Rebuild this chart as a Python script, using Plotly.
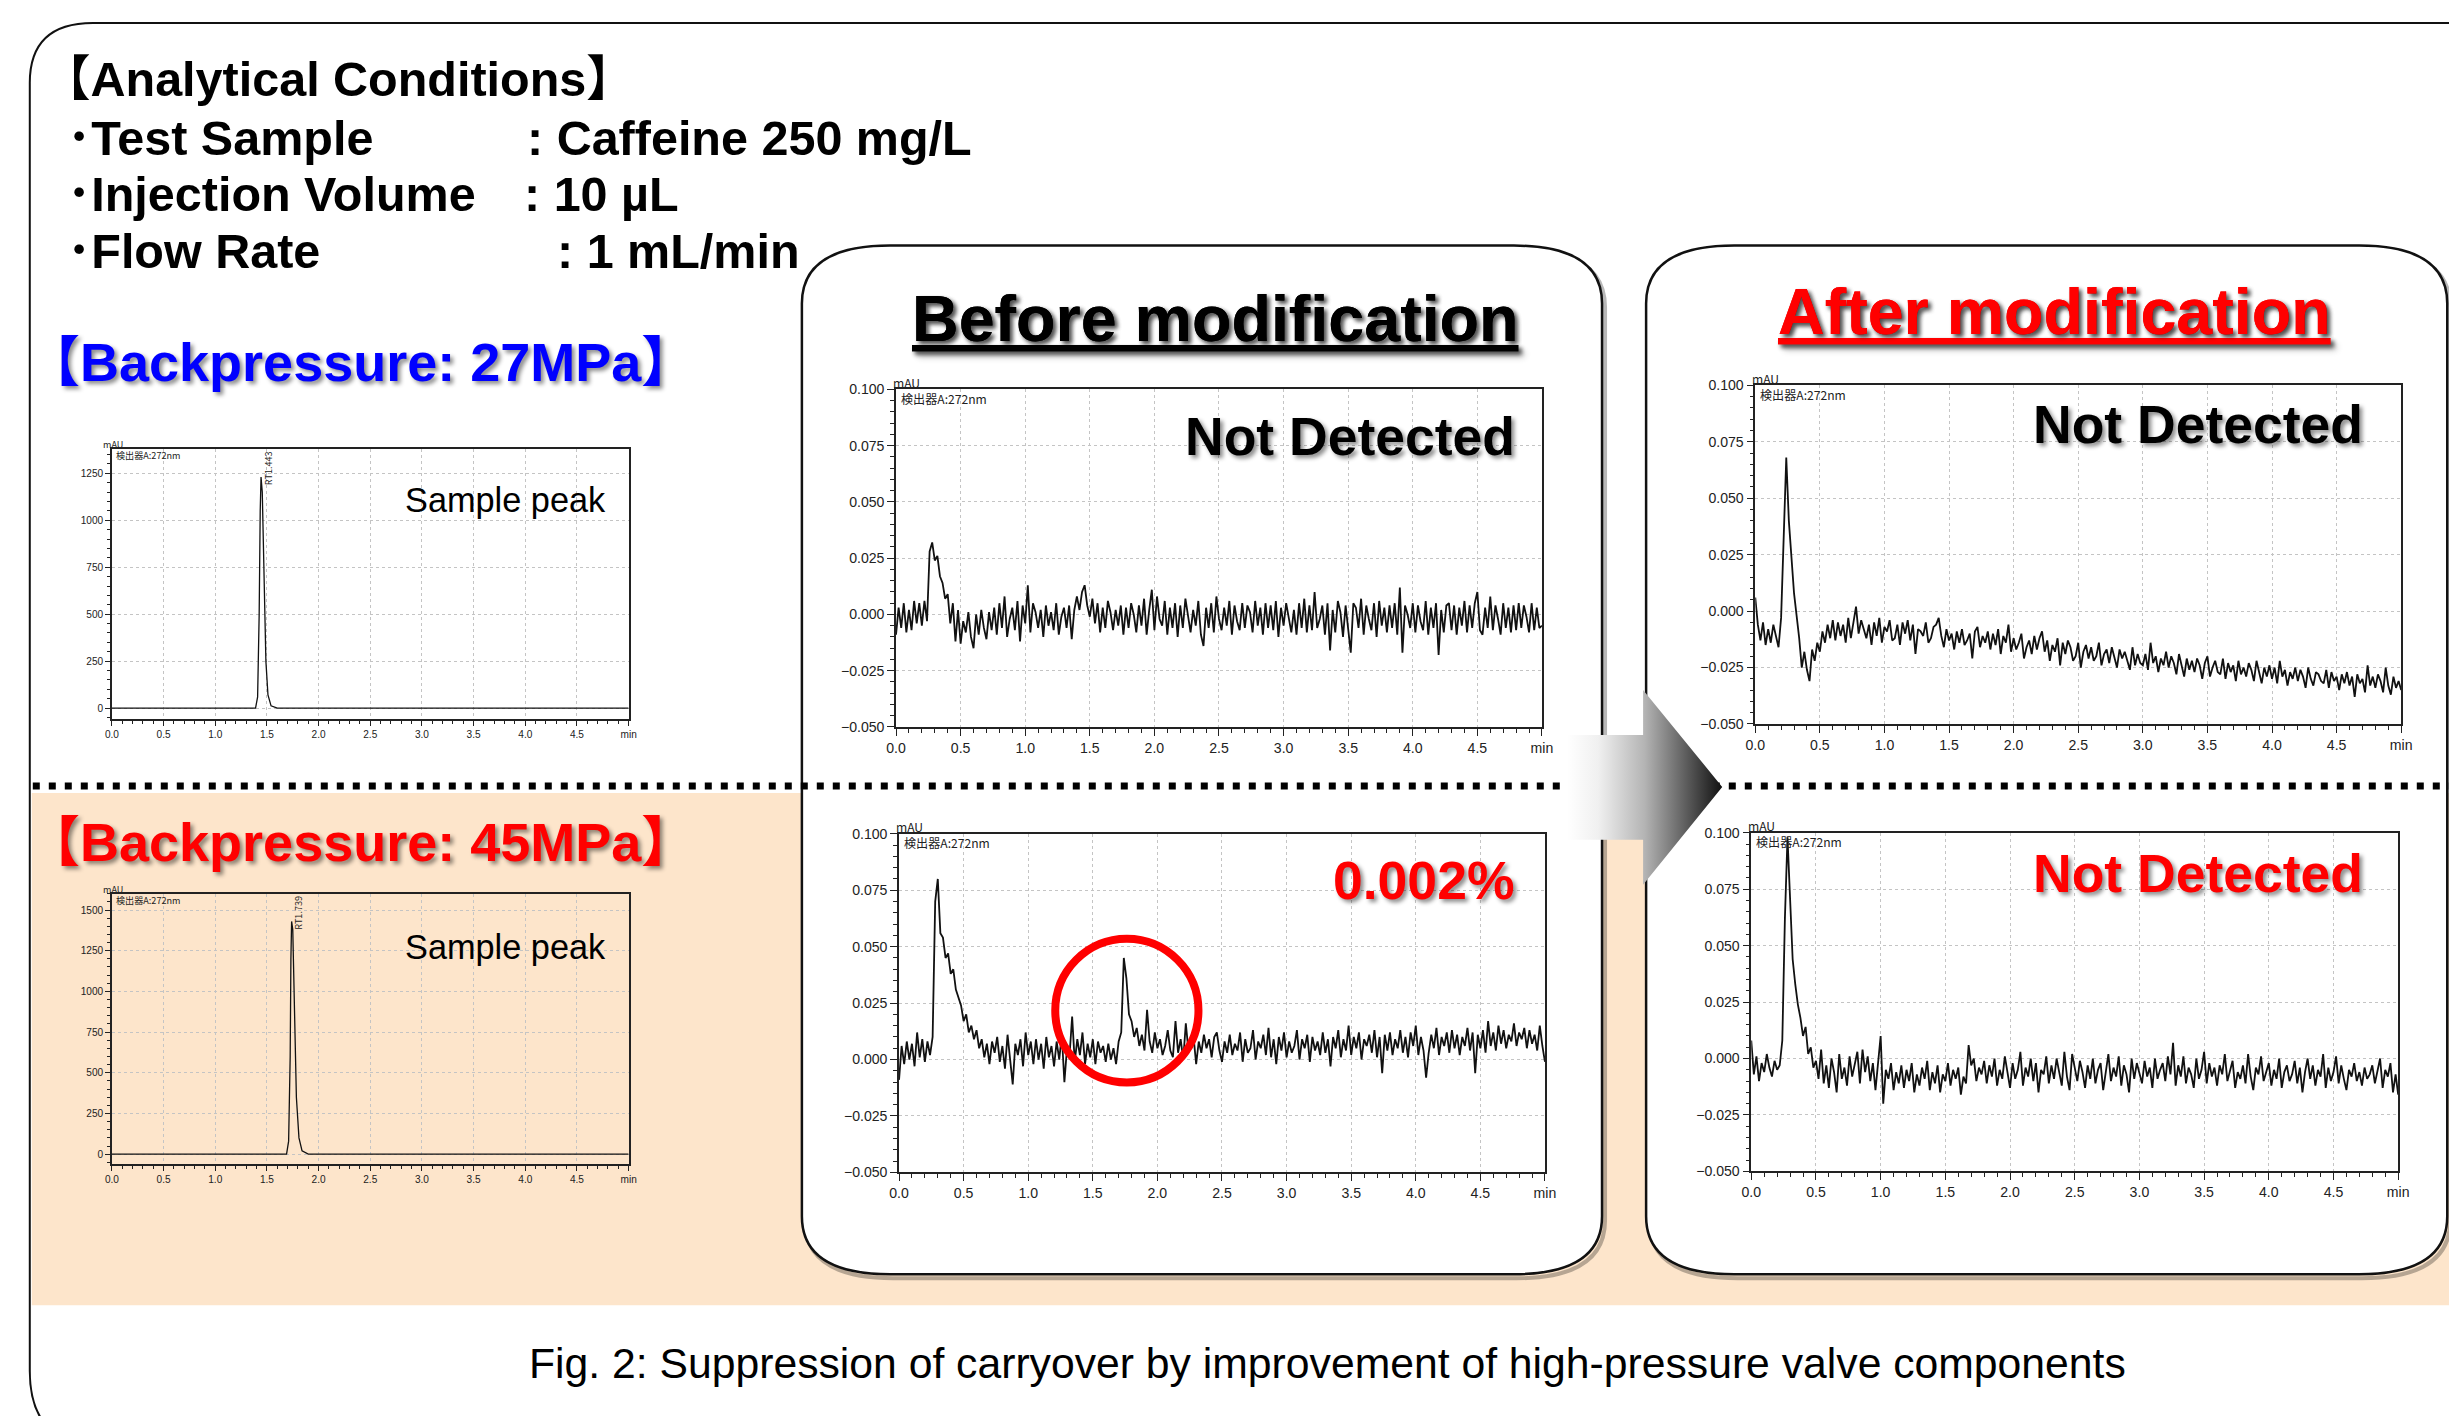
import numpy as np
import plotly.graph_objects as go

W, H = 2449, 1416
S = 0.99  # the page is photographed ~1% smaller around its centre; layout is laid out to compensate
FONT = "Liberation Sans, Arial, Noto Sans CJK JP, sans-serif"
AXFONT = "Liberation Sans Narrow, Liberation Sans, sans-serif"
JPFONT = "Noto Sans CJK JP, sans-serif"
STEP_MIN = 0.02  # detector sampling step used for the carryover traces

# ---------------- data ----------------
# Sample-injection chromatograms (mAU)
sample_27MPa_time = [0.0, 1.39, 1.41, 1.425, 1.435, 1.443, 1.455, 1.47, 1.49, 1.51, 1.54, 1.60, 5.0]
sample_27MPa_mAU = [0, 0, 60, 500, 1050, 1230, 1150, 700, 250, 70, 12, 0, 0]
sample_45MPa_time = [0.0, 1.69, 1.71, 1.725, 1.732, 1.739, 1.75, 1.765, 1.785, 1.81, 1.84, 1.90, 5.0]
sample_45MPa_mAU = [0, 0, 80, 600, 1200, 1430, 1380, 900, 350, 100, 20, 0, 0]

# Blank injections after the sample (values in 0.001 mAU, every 0.02 min)
before_27MPa_uAU = [
    -9, 3, -6, 5, -8, 2, -7, 6, -4, 5,
    -5, 6, -3, 28, 32, 24, 26, 17, 14, 7,
    9, -4, 5, -12, 2, -13, -3, -8, 1, -10,
    -15, 0, -9, 2, -6, -11, 1, -7, 3, -9,
    5, -6, 8, -10, -2, 3, -7, 6, -12, 4,
    -4, 13, -8, 5, 1, -6, 2, -10, 4, -5,
    1, -7, 5, -9, -1, 3, -6, 4, -11, 2,
    8, 2, 10, 13, 4, -1, 7, -4, 5, -8,
    3, -6, 6, 1, -7, 2, -5, 4, -9, 3,
    -6, 5, 0, -8, 4, -5, 7, -9, 2, 11,
    -7, 8, -2, -5, 6, -9, 3, -6, 5, -10,
    4, -6, 7, -1, -8, 2, -5, 6, -9, -14,
    3, -6, 5, -8, 8, -2, -7, 3, -5, 6,
    -9, 4, -3, -7, 5, -6, 4, 1, -8, 6,
    -5, 3, -9, 5, -6, 4, -7, 6, -10, 3,
    -5, 5, -1, -8, 2, -9, 5, -6, 7, -8,
    4, -7, 10, -6, -2, 4, -9, 5, -16, 2,
    -8, 6, 1, -10, 4, -7, -17, 5, 3, -6,
    7, -9, 4, -2, -7, 5, -10, 6, -5, 3,
    -8, 4, -6, 5, -9, 12, -17, 4, 0, -6,
    5, -8, 4, -3, -7, 6, -9, 3, -6, 5,
    -18, 2, -8, 4, 5, -7, 4, -9, 3, -5,
    6, -8, 4, -6, 5, 10, -7, -9, 3, -6,
    8, -7, 4, -2, -9, 5, -6, 3, -8, 4,
    -7, 5, -6, 4, -1, -8, 5, -7, 3, -6,
    -5,
]
after_27MPa_uAU = [
    6, -6, -13, -5, -15, -8, -14, -6, -11, -16,
    -3, 28, 68, 40, 22, 8, -2, -12, -25, -18,
    -26, -31, -17, -22, -14, -18, -9, -14, -6, -12,
    -4, -13, -5, -11, -6, -14, -3, -12, -5, 2,
    -10, -4, -8, -12, -6, -15, -5, -11, -3, -14,
    -7, -9, -4, -13, -12, -6, -15, -5, -10, -4,
    -13, -6, -19, -8, -9, -11, -5, -14, -12, -7,
    -6, -3, -11, -16, -8, -13, -10, -17, -9, -14,
    -8, -15, -13, -10, -21, -9, -7, -16, -11, -14,
    -9, -17, -10, -15, -8, -19, -11, -14, -6, -18,
    -12, -17, -14, -10, -21, -16, -13, -19, -11, -17,
    -12, -9, -18, -13, -22, -15, -18, -12, -24, -14,
    -19, -13, -16, -22, -20, -14, -25, -18, -15, -21,
    -16, -22, -20, -14, -24, -19, -17, -23, -16, -21,
    -25, -17, -21, -18, -22, -26, -16, -24, -19, -23,
    -24, -19, -26, -14, -23, -20, -27, -21, -24, -18,
    -25, -20, -23, -28, -19, -24, -29, -21, -26, -22,
    -27, -21, -24, -30, -23, -20, -29, -25, -22, -27,
    -28, -21, -30, -23, -27, -24, -31, -22, -28, -25,
    -29, -23, -26, -31, -22, -27, -32, -25, -29, -24,
    -30, -25, -32, -22, -29, -26, -33, -27, -30, -25,
    -31, -26, -29, -34, -25, -30, -33, -27, -28, -31,
    -32, -26, -34, -27, -31, -29, -35, -28, -32, -27,
    -33, -29, -38, -28, -32, -30, -36, -24, -33, -29,
    -34, -28, -31, -36, -25, -33, -37, -29, -34, -31,
    -35,
]
before_45MPa_uAU = [
    -9, 6, -2, 8, 0, 7, -3, 12, 1, 9,
    -1, 8, 2, 10, 70, 80, 56, 54, 45, 47,
    38, 40, 31, 27, 24, 17, 20, 12, 15, 9,
    13, 5, 9, 1, 7, -2, 8, 3, 10, -1,
    6, -4, 11, 0, -11, 7, 2, 9, -3, 12,
    2, 8, -2, 9, 0, 7, -4, 10, 1, 6,
    -3, 8, 0, 11, -10, 5, 2, 19, -1, 9,
    2, 12, -2, 7, 1, 9, -2, 8, 3, 6,
    -1, 7, 0, 5, -2, 8, 12, 45, 36, 20,
    17, 10, 14, 6, 11, 4, 22, 8, 3, 12,
    5, 9, 2, 6, 13, 4, 1, 17, 3, 9,
    0, 16, 4, 7, 10, -2, 8, 3, 11, 5,
    9, 1, 10, 12, 4, -1, 8, 3, 11, 2,
    7, 4, 12, -1, 9, 3, 5, 13, 0, 8,
    5, 11, 2, 14, 1, 9, -2, 10, 4, 12,
    1, 8, 3, 6, 13, 0, 9, 5, 11, -1,
    10, 4, 8, 2, 12, 3, 9, -3, 10, 5,
    13, 1, 9, 4, 15, 2, 10, 5, 12, 0,
    9, 6, 11, 3, 13, 1, 10, -6, 11, 4,
    12, 2, 9, 5, 13, 3, 10, 1, 12, 6,
    15, 2, 10, 4, -8, 3, 11, 5, 14, 2,
    10, 6, 12, 3, 13, 5, 11, 2, 10, 6,
    14, 4, 12, -6, 11, 5, 13, 3, 17, 6,
    12, 4, 15, 7, 13, 5, 11, 8, 16, 6,
    12, 9, 14, 5, 13, 7, 11, 4, 15, 6,
    -1,
]
after_45MPa_uAU = [
    8, -7, 1, -10, -2, -6, 2, -4, -8, -1,
    -5, -3, 8, 62, 98, 70, 44, 33, 24, 18,
    10, 14, 2, 5, -4, -1, -9, 4, -11, -3,
    -13, 0, -6, -15, 2, -9, -4, -12, 1, -8,
    -3, 3, -11, 4, -6, 1, -10, -2, -14, 0,
    10, -20, -5, -9, -2, -14, -6, -11, -3, -13,
    -5, -10, -2, -15, -7, -12, -4, -9, -1, -14,
    -6, -11, -3, -15, -7, -10, -2, -12, -5, -9,
    -4, -16, -8, -11, 6, -3, 0, -10, -4, -7,
    -1, -11, -3, -8, 0, -12, -5, -9, 1, -6,
    -13, -2, -9, -5, 3, -12, -4, -8, 0, -10,
    -2, -15, -5, -7, 1, -11, -3, -9, 0, -6,
    -12, 3, -8, -14, 2, -4, -10, -1, -6, -13,
    -3, -9, 0, -11, -5, -2, -14, -6, 2, -10,
    -4, -8, 1, -12, -3, -7, -15, 0, -9, -2,
    -6, -11, -1, -8, -4, -13, 0, -9, -5, -2,
    -10, 1, -7, 7, -12, -3, -8, 1, -11, -4,
    -7, -13, 0, -9, -5, 3, -11, -2, -8, -4,
    -12, -3, -7, 2, -10, -5, -1, -13, -6, -9,
    -3, -11, 2, -8, -14, -4, -7, 1, -10, -6,
    -2, -12, -5, -9, 0, -13, -6, -3, -10, -7,
    -1, -11, -4, -15, -6, 0, -9, -3, -12, -5,
    -8, 2, -13, -4, -10, -6, 1, -11, -3, -9,
    -14, -5, -8, -2, -10, -6, -12, -4, -9, -7,
    -3, -11, -6, 0, -13, -5, -8, -2, -15, -7,
    -16,
]

# Tick labels
time_tick_vals = [0.0, 0.5, 1.0, 1.5, 2.0, 2.5, 3.0, 3.5, 4.0, 4.5, 5.0]
time_tick_labels = ["0.0", "0.5", "1.0", "1.5", "2.0", "2.5", "3.0", "3.5", "4.0", "4.5", "min"]
blank_tick_vals = [-0.05, -0.025, 0.0, 0.025, 0.05, 0.075, 0.1]
blank_tick_labels = ["\u22120.050", "\u22120.025", "0.000", "0.025", "0.050", "0.075", "0.100"]
s27_tick_vals = [0, 250, 500, 750, 1000, 1250]
s45_tick_vals = [0, 250, 500, 750, 1000, 1250, 1500]


def to_mAU(vals):
    return np.array(vals) / 1000.0


def times(vals):
    return np.round(np.arange(len(vals)) * STEP_MIN, 3)


# ---------------- helpers ----------------
def X(x):
    return W / 2 + (x - W / 2) / S


def Y(y):
    return H / 2 + (y - H / 2) / S


def FS(s):
    return round(s / S, 1)


def xdom(x0, x1):
    return [X(x0) / W, X(x1) / W]


def ydom(y0, y1):
    return [1 - Y(y1) / H, 1 - Y(y0) / H]


def px(x, y):
    return X(x) / W, 1 - Y(y) / H


def P(x, y):
    a, b = px(x, y)
    return f"{a:.5f},{b:.5f}"


def rounded_path(x0, y0, x1, y1, rx, ry):
    return (f"M {P(x0 + rx, y0)} L {P(x1 - rx, y0)} Q {P(x1, y0)} {P(x1, y0 + ry)} "
            f"L {P(x1, y1 - ry)} Q {P(x1, y1)} {P(x1 - rx, y1)} L {P(x0 + rx, y1)} "
            f"Q {P(x0, y1)} {P(x0, y1 - ry)} L {P(x0, y0 + ry)} Q {P(x0, y0)} {P(x0 + rx, y0)} Z")


panels = {
    1: (114, 630, 449, 719),
    2: (114, 630, 894, 1165),
    3: (897, 1542, 389, 727),
    4: (1755, 2400, 385, 724),
    5: (900, 1545, 834, 1173),
    6: (1751, 2397, 833, 1172),
}


def xaxis(n, small):
    x0, x1, y0, y1 = panels[n]
    fs = FS(10 if small else 14)
    return dict(domain=xdom(x0, x1), anchor=f"y{n}" if n > 1 else "y", range=[0, 5],
                showline=True, mirror=True, linecolor="#222", linewidth=1.5,
                ticks="outside", ticklen=5 if small else 7, tickwidth=1.2, tickcolor="#222",
                tickmode="array", tickvals=time_tick_vals, ticktext=time_tick_labels,
                tickfont=dict(family=AXFONT, size=fs, color="#222"),
                showgrid=True, gridcolor="#c4c4c4", griddash="dot", gridwidth=1,
                minor=dict(dtick=0.1, tick0=0, ticks="outside", ticklen=3 if small else 4,
                           tickcolor="#222", tickwidth=1, showgrid=False),
                zeroline=False, fixedrange=True)


def yaxis(n, small, rng, tvals, ttext, minor_dt):
    x0, x1, y0, y1 = panels[n]
    fs = FS(10 if small else 14)
    return dict(domain=ydom(y0, y1), anchor=f"x{n}" if n > 1 else "x", range=rng,
                showline=True, mirror=True, linecolor="#222", linewidth=1.5,
                ticks="outside", ticklen=5 if small else 7, tickwidth=1.2, tickcolor="#222",
                tickmode="array", tickvals=tvals, ticktext=ttext,
                tickfont=dict(family=AXFONT, size=fs, color="#222"),
                showgrid=True, gridcolor="#c4c4c4", griddash="dot", gridwidth=1,
                minor=dict(dtick=minor_dt, tick0=0, ticks="outside", ticklen=3 if small else 4,
                           tickcolor="#222", tickwidth=1, showgrid=False),
                zeroline=False, fixedrange=True)


fig = go.Figure()

line_big = dict(color="#111", width=1.8)
line_small = dict(color="#111", width=1.3)

fig.add_trace(go.Scatter(x=sample_27MPa_time, y=sample_27MPa_mAU, mode="lines",
                         line=line_small, xaxis="x", yaxis="y", hoverinfo="skip"))
fig.add_trace(go.Scatter(x=sample_45MPa_time, y=sample_45MPa_mAU, mode="lines",
                         line=line_small, xaxis="x2", yaxis="y2", hoverinfo="skip"))
fig.add_trace(go.Scatter(x=times(before_27MPa_uAU), y=to_mAU(before_27MPa_uAU), mode="lines",
                         line=line_big, xaxis="x3", yaxis="y3", hoverinfo="skip"))
fig.add_trace(go.Scatter(x=times(after_27MPa_uAU), y=to_mAU(after_27MPa_uAU), mode="lines",
                         line=line_big, xaxis="x4", yaxis="y4", hoverinfo="skip"))
fig.add_trace(go.Scatter(x=times(before_45MPa_uAU), y=to_mAU(before_45MPa_uAU), mode="lines",
                         line=line_big, xaxis="x5", yaxis="y5", hoverinfo="skip"))
fig.add_trace(go.Scatter(x=times(after_45MPa_uAU), y=to_mAU(after_45MPa_uAU), mode="lines",
                         line=line_big, xaxis="x6", yaxis="y6", hoverinfo="skip"))

# Gradient arrow (decoration) on a full-page overlay axis in pixel units
arrow_x = [1567, 1643, 1643, 1722, 1643, 1643, 1567, 1567]
arrow_y = [735, 735, 690, 787, 885, 840, 840, 735]
fig.add_trace(go.Scatter(x=arrow_x, y=arrow_y, mode="lines", fill="toself",
                         line=dict(width=0, color="rgba(0,0,0,0)"),
                         fillgradient=dict(type="horizontal",
                                           colorscale=[[0, "#ffffff"], [0.2, "#f0f0f0"],
                                                       [0.5, "#b4b4b4"], [1, "#111111"]]),
                         xaxis="x7", yaxis="y7", hoverinfo="skip"))

blank_rng = [-0.05, 0.1]
layout = dict(
    width=W, height=H, margin=dict(l=0, r=0, t=0, b=0),
    paper_bgcolor="white", plot_bgcolor="rgba(0,0,0,0)", showlegend=False,
    xaxis=xaxis(1, True), yaxis=yaxis(1, True, [-58, 1378], s27_tick_vals, [str(v) for v in s27_tick_vals], 50),
    xaxis2=xaxis(2, True), yaxis2=yaxis(2, True, [-63, 1600], s45_tick_vals, [str(v) for v in s45_tick_vals], 50),
    xaxis3=xaxis(3, False), yaxis3=yaxis(3, False, blank_rng, blank_tick_vals, blank_tick_labels, 0.005),
    xaxis4=xaxis(4, False), yaxis4=yaxis(4, False, blank_rng, blank_tick_vals, blank_tick_labels, 0.005),
    xaxis5=xaxis(5, False), yaxis5=yaxis(5, False, blank_rng, blank_tick_vals, blank_tick_labels, 0.005),
    xaxis6=xaxis(6, False), yaxis6=yaxis(6, False, blank_rng, blank_tick_vals, blank_tick_labels, 0.005),
    xaxis7=dict(domain=[0, 1], range=[W / 2 * (1 - S), W / 2 * (1 + S)], visible=False,
                anchor="y7", fixedrange=True),
    yaxis7=dict(domain=[0, 1], range=[H / 2 * (1 + S), H / 2 * (1 - S)], visible=False,
                anchor="x7", fixedrange=True),
)
fig.update_layout(**layout)

# ---------------- shapes ----------------
shapes = []
# outer frame (extends beyond the page on right and bottom)
outer = (f"M {P(2520, 22)} L {P(95, 22)} Q {P(32, 22)} {P(32, 82)} L {P(32, 1372)} "
         f"Q {P(32, 1445)} {P(100, 1445)} L {P(2520, 1445)}")
shapes.append(dict(type="path", path=outer, xref="paper", yref="paper", layer="below",
                   line=dict(color="#111", width=2)))
# peach band
x0p, y0p = px(34, 793)
x1p, y1p = px(W + 20, 1306)
shapes.append(dict(type="rect", x0=x0p, x1=x1p, y0=y1p, y1=y0p, xref="paper", yref="paper",
                   layer="below", fillcolor="#FDE5CB", line=dict(width=0)))
# rounded boxes with soft shadow
for (bx0, by0, bx1, by1) in [(803, 245, 1602, 1275), (1646, 245, 2446, 1275)]:
    shapes.append(dict(type="path", path=rounded_path(bx0 + 3, by0 + 4, bx1 + 3, by1 + 4, 88, 58),
                       xref="paper", yref="paper", layer="below",
                       line=dict(color="rgba(0,0,0,0.28)", width=4)))
    shapes.append(dict(type="path", path=rounded_path(bx0, by0, bx1, by1, 88, 58),
                       xref="paper", yref="paper", layer="below", fillcolor="white",
                       line=dict(color="#111", width=2.5)))
# dotted separator
lx0, ly = px(35, 786)
lx1, _ = px(W + 20, 786)
shapes.append(dict(type="line", x0=lx0, x1=lx1, y0=ly, y1=ly, xref="paper", yref="paper",
                   layer="below", line=dict(color="black", width=7, dash="7px,9px")))
# red circle around the carryover peak
ex0, ey0 = px(1056, 939)
ex1, ey1 = px(1199, 1083)
shapes.append(dict(type="circle", x0=ex0, x1=ex1, y0=ey1, y1=ey0, xref="paper", yref="paper",
                   line=dict(color="#ff0000", width=8)))
fig.update_layout(shapes=shapes)

# ---------------- text ----------------
ann = []


def text(t, x, y, size, color="black", weight="normal", xanchor="center", family=FONT,
         shadow=None, underline=False, angle=0):
    a, b = px(x, y)
    f = dict(family=family, size=FS(size), color=color, weight=weight)
    if shadow:
        f["shadow"] = shadow
    if underline:
        f["lineposition"] = "under"
    ann.append(dict(text=t, x=a, y=b, xref="paper", yref="paper", xanchor=xanchor,
                    yanchor="middle", showarrow=False, font=f, textangle=angle))


SH = "3px 3px 4px rgba(0,0,0,0.45)"
# analytical conditions
text("【Analytical Conditions】", 42, 78, 48, weight="bold", xanchor="left")
text("･Test Sample", 67, 137, 48, weight="bold", xanchor="left")
text(": Caffeine 250 mg/L", 527, 137, 48, weight="bold", xanchor="left")
text("･Injection Volume", 67, 193, 48, weight="bold", xanchor="left")
text(": 10 µL", 524, 193, 48, weight="bold", xanchor="left")
text("･Flow Rate", 67, 250, 48, weight="bold", xanchor="left")
text(": 1 mL/min", 556, 250, 48, weight="bold", xanchor="left")

text("【Backpressure: 27MPa】", 26, 362, 53.5, color="#0000ff", weight="bold", xanchor="left", shadow=SH)
text("【Backpressure: 45MPa】", 26, 842, 53.5, color="#ff0000", weight="bold", xanchor="left", shadow=SH)

text("Before modification", 1216, 318, 64, weight="bold", shadow=SH, underline=True)
text("After modification", 2054, 311, 64, color="#ff0000", weight="bold", shadow=SH, underline=True)

text("Sample peak", 507, 500, 34)
text("Sample peak", 507, 947, 34)
text("Not Detected", 1350, 436, 53, weight="bold", shadow=SH)
text("Not Detected", 2197, 424, 53, weight="bold", shadow=SH)
text("Not Detected", 2197, 874, 53, color="#ff0000", weight="bold", shadow=SH)
text("0.002%", 1424, 881, 53, color="#ff0000", weight="bold", shadow=SH)

text("Fig. 2: Suppression of carryover by improvement of high-pressure valve components",
     1328, 1364, 42.3)

# in-chart labels
for n, small in [(1, True), (2, True), (3, False), (4, False), (5, False), (6, False)]:
    x0, x1, y0, y1 = panels[n]
    if small:
        text("mAU", x0 + 1, y0 - 5, 9, family=JPFONT, color="#222")
        text("検出器A:272nm", x0 + 2, y0 + 6, 9, family=JPFONT, xanchor="left", color="#222")
    else:
        text("mAU", x0 + 10, y0 - 7, 12, family=JPFONT, color="#222")
        text("検出器A:272nm", x0 + 3, y0 + 9, 12, family=JPFONT, xanchor="left", color="#222")

fig.update_layout(annotations=ann)
fig.add_annotation(text="RT1.443", x=1.505, y=1280, xref="x", yref="y", showarrow=False,
                   textangle=-90, font=dict(family=JPFONT, size=FS(9), color="#222"))
fig.add_annotation(text="RT1.739", x=1.80, y=1483, xref="x2", yref="y2", showarrow=False,
                   textangle=-90, font=dict(family=JPFONT, size=FS(9), color="#222"))

fig.write_html("out.html", config={"displayModeBar": False},
               post_script="document.body.style.margin='0px';document.body.style.overflow='hidden';")
